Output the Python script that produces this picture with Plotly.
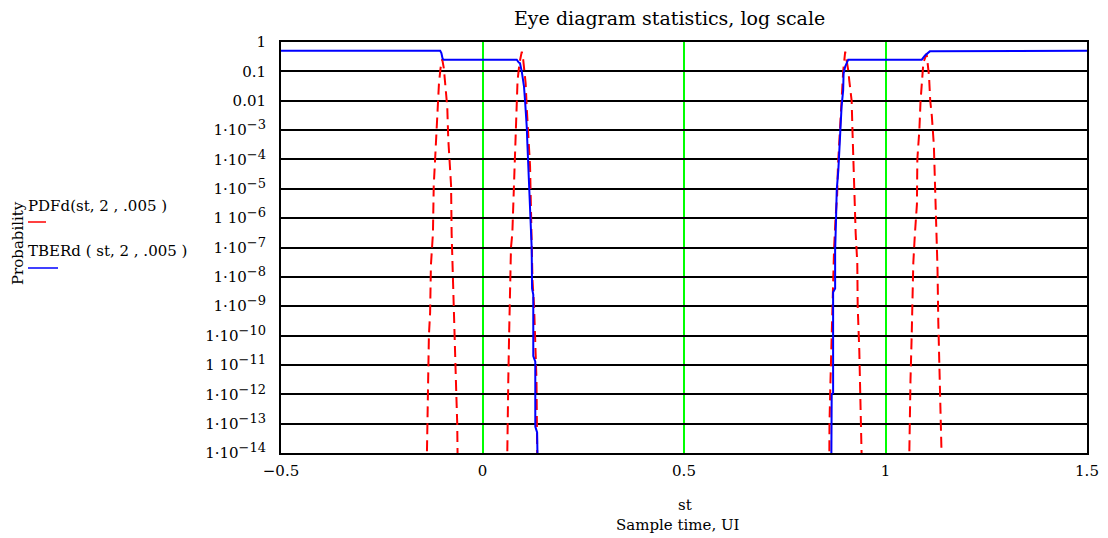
import plotly.graph_objects as go

# ---------------- data ----------------
# Red dashed curve: PDFd(st, 2, .005)  (four lobes, separated by None)
pdf_st = [
    -0.1385, -0.137, -0.135, -0.133, -0.130, -0.128, -0.123, -0.121, -0.118, -0.115, -0.112, -0.108, -0.104,
    -0.100,
    -0.096, -0.093, -0.0874, -0.085, -0.082, -0.078, -0.0766, -0.074, -0.070, -0.068, -0.065, -0.0627, -0.0615,
    None,
    0.0610, 0.0616, 0.064, 0.066, 0.068, 0.0707, 0.074, 0.0765, 0.0798, 0.0831, 0.0855, 0.087, 0.092,
    0.0975,
    0.101, 0.104, 0.107, 0.110, 0.115, 0.118, 0.120, 0.122, 0.124, 0.128, 0.1315, 0.134, 0.135, 0.136,
    None,
    0.8605, 0.861, 0.8635, 0.8665, 0.8685, 0.8705, 0.8725, 0.876, 0.880, 0.882, 0.887, 0.890, 0.895,
    0.900,
    0.904, 0.908, 0.910, 0.916, 0.918, 0.920, 0.924, 0.926, 0.930, 0.931, 0.935, 0.937, 0.939, 0.9415,
    None,
    1.0585, 1.060, 1.062, 1.065, 1.067, 1.069, 1.073, 1.078, 1.079, 1.084, 1.087, 1.090, 1.094,
    1.102,
    1.106, 1.108, 1.111, 1.115, 1.120, 1.123, 1.125, 1.127, 1.129, 1.131, 1.133, 1.136, 1.139, 1.140,
]
pdf_val = [
    3e-15, 1e-13, 1e-12, 1e-10, 6e-10, 2.5e-8, 3e-7, 1.3e-5, 8e-5, 5e-4, 6e-3, 4e-2, 1.3e-1,
    2.6e-1,
    1.3e-1, 4e-2, 6e-3, 5e-4, 8e-5, 1.3e-5, 3e-7, 2.5e-8, 6e-10, 1e-10, 1e-12, 1e-13, 3e-15,
    None,
    3e-15, 1e-13, 3e-12, 1e-10, 3e-9, 1e-7, 3e-7, 3e-6, 3e-5, 3e-4, 3e-3, 5e-2, 2e-1,
    4.7e-1,
    2.5e-1, 1.2e-1, 4e-2, 5e-3, 4e-4, 6e-5, 3e-6, 2e-7, 8e-9, 1e-9, 6e-11, 3e-12, 1e-13, 3e-15,
    None,
    3e-15, 1e-13, 3e-12, 1e-10, 1e-9, 3e-8, 1e-7, 1e-6, 6e-6, 6e-5, 8e-4, 1e-2, 1e-1,
    4.7e-1,
    2.5e-1, 1e-1, 5e-2, 1e-2, 1e-3, 1e-4, 5e-6, 3e-7, 3e-8, 1e-9, 3e-11, 1e-12, 1e-13, 3e-15,
    None,
    3e-15, 1e-13, 3e-12, 1e-10, 3e-9, 3e-8, 3e-7, 3e-6, 1e-4, 1e-3, 1e-2, 5e-2, 2e-1,
    4e-1,
    1.3e-1, 7e-2, 1e-2, 3e-3, 3e-4, 1.5e-5, 1e-6, 2e-7, 2e-8, 3e-10, 3e-11, 1e-12, 1e-13, 3e-15,
]

# Blue solid curve: TBERd(st, 2, .005)
tber_st = [
    -0.5, -0.105, -0.102, -0.099, -0.096, 0.085, 0.090, 0.093, 0.0975, 0.101, 0.103, 0.1055, 0.108,
    0.110, 0.111, 0.113, 0.1146, 0.116, 0.118, 0.1195, 0.122, 0.123, 0.126, 0.126, 0.131, 0.131,
    0.1355, 0.137,
    None,
    0.8655, 0.8665, 0.870, 0.870, 0.875, 0.875, 0.877, 0.879, 0.883, 0.886, 0.889, 0.891, 0.895,
    0.896, 0.900, 0.9075, 1.090, 1.098, 1.110, 1.5,
]
tber_val = [
    0.5, 0.5, 0.42, 0.27, 0.25, 0.25, 0.2, 0.19, 0.098, 0.051, 0.03, 0.0105, 3.7e-3,
    1.15e-3, 4.6e-4, 1.2e-4, 4.4e-5, 1.5e-5, 4.2e-6, 8.7e-7, 1e-7, 4e-9, 2.5e-9, 2e-11, 1.3e-11, 8e-14,
    5e-14, 3e-15,
    None,
    3e-15, 1e-12, 1.1e-12, 3e-9, 4e-9, 8e-8, 6.8e-7, 9e-6, 4.4e-5, 4.6e-4, 1.3e-3, 6.3e-3, 2.3e-2,
    8.5e-2, 1.45e-1, 0.25, 0.25, 0.35, 0.48, 0.5,
]

x_ticks = [-0.5, 0, 0.5, 1, 1.5]
x_tick_text = ["\u22120.5", "0", "0.5", "1", "1.5"]
y_ticks = [1, 0.1, 0.01, 1e-3, 1e-4, 1e-5, 1e-6, 1e-7, 1e-8, 1e-9, 1e-10, 1e-11, 1e-12, 1e-13, 1e-14]
y_exponents = ["", "", "", "3", "4", "5", "6", "7", "8", "9", "10", "11", "12", "13", "14"]
y_sep = ["", "", "", "\u00b7", "\u00b7", "\u00b7", " ", "\u00b7", "\u00b7", "\u00b7", "\u00b7", " ", "\u00b7", "\u00b7", "\u00b7"]

# ---------------- layout geometry ----------------
W, H = 1108, 538
L, R, T, B = 281, 1087, 42, 453
FONT = "DejaVu Serif"


def px(x):
    return (x - L) / (R - L)


def py(y):
    return (B - y) / (B - T)


y_tick_text = []
for v, e, s in zip(y_ticks, y_exponents, y_sep):
    if e == "":
        y_tick_text.append({1: "1", 0.1: "0.1", 0.01: "0.01"}[v])
    else:
        y_tick_text.append(
            "1" + s + "10<span style='font-size:13px;baseline-shift:45%'>\u2212" + e + "</span>"
        )

fig = go.Figure()
fig.add_trace(go.Scatter(
    x=pdf_st, y=pdf_val, mode="lines", connectgaps=False,
    line=dict(color="#ff0000", width=2, dash="11px,6px"),
    name="PDFd(st, 2 , .005 )", showlegend=False,
))
fig.add_trace(go.Scatter(
    x=tber_st, y=tber_val, mode="lines", connectgaps=False,
    line=dict(color="#0000ff", width=2),
    name="TBERd ( st, 2 , .005 )", showlegend=False,
))

fig.update_layout(
    width=W, height=H,
    margin=dict(l=L, r=W - R, t=T, b=H - B),
    paper_bgcolor="white", plot_bgcolor="white",
    font=dict(family=FONT, size=15, color="black"),
    showlegend=False,
)
fig.update_xaxes(
    range=[-0.5, 1.5], tickvals=x_ticks, ticktext=x_tick_text, automargin=False,
    showgrid=True, gridcolor="#00ff00", gridwidth=1.5,
    zeroline=False, showline=True, linecolor="black", linewidth=2, mirror=True,
    ticks="", tickfont=dict(family=FONT, size=15), ticklabelstandoff=3,
)
fig.update_yaxes(
    type="log", range=[-14, 0], tickvals=y_ticks, ticktext=y_tick_text, automargin=False,
    showgrid=True, gridcolor="black", gridwidth=2,
    zeroline=False, showline=True, linecolor="black", linewidth=2, mirror=True,
    ticks="", tickfont=dict(family=FONT, size=15), ticklabelstandoff=10,
)

ann = [
    dict(text="Eye diagram statistics, log scale", x=px(669), y=py(18), size=19),
    dict(text="st", x=px(685), y=py(505), size=15),
    dict(text="Sample time, UI", x=px(678), y=py(525), size=15),
]
for a in ann:
    fig.add_annotation(text=a["text"], x=a["x"], y=a["y"], xref="paper", yref="paper",
                       showarrow=False, xanchor="center", yanchor="middle",
                       font=dict(family=FONT, size=a["size"], color="black"))

fig.add_annotation(text="Probability", x=px(18), y=py(243), xref="paper", yref="paper",
                   showarrow=False, textangle=-90, xanchor="center", yanchor="middle",
                   font=dict(family=FONT, size=15, color="black"))
fig.add_annotation(text="PDFd(st, 2 , .005 )", x=px(26), y=py(206), xref="paper", yref="paper",
                   showarrow=False, xanchor="left", yanchor="middle",
                   font=dict(family=FONT, size=15, color="black"))
fig.add_annotation(text="TBERd ( st, 2 , .005 )", x=px(26), y=py(251), xref="paper", yref="paper",
                   showarrow=False, xanchor="left", yanchor="middle",
                   font=dict(family=FONT, size=15, color="black"))
fig.add_shape(type="line", xref="paper", yref="paper", x0=px(28), x1=px(46), y0=py(222), y1=py(222),
              line=dict(color="#ff0000", width=1.5))
fig.add_shape(type="line", xref="paper", yref="paper", x0=px(28), x1=px(58), y0=py(268), y1=py(268),
              line=dict(color="#0000ff", width=1.5))

fig.write_html("out.html")
